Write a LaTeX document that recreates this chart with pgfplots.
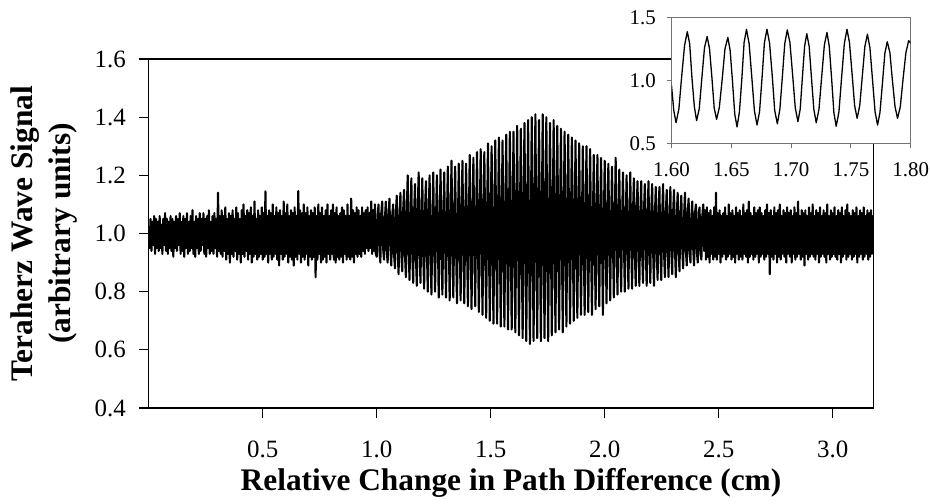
\documentclass[border=0pt]{standalone}
\usepackage{fontspec}
\setmainfont{Liberation Serif}
\usepackage{pgfplots}
\pgfplotsset{compat=1.18}

\begin{document}
\begin{tikzpicture}
\path[use as bounding box] (0bp,0bp) rectangle (930bp,504bp);
% full scan
\begin{axis}[
  at={(148.7bp,96bp)}, anchor=south west,
  scale only axis, width=724.6bp, height=349bp,
  xmin=0, xmax=3.178, ymin=0.4, ymax=1.6,
  xtick={0.5,1.0,1.5,2.0,2.5,3.0},
  ytick={0.4,0.6,0.8,1.0,1.2,1.4,1.6},
  xtick pos=bottom, ytick pos=left,
  tick align=outside, major tick length=10bp,
  axis line style={line width=1.3bp},
  tick style={black, line width=1.3bp},
  scaled ticks=false,
  /pgf/number format/fixed, /pgf/number format/fixed zerofill,
  /pgf/number format/precision=1, /pgf/number format/assume math mode=true,
  tick label style={font=\fontsize{25}{30}\selectfont},
  xticklabel style={anchor=base, inner sep=0pt, yshift=-39.7bp},
  yticklabel style={anchor=east, inner sep=0pt, xshift=-12.7bp},
  xlabel={Relative Change in Path Difference (cm)},
  ylabel={Teraherz Wave Signal\\(arbitrary units)},
  xlabel style={font=\fontsize{31.5}{37.5}\selectfont\bfseries, at={(axis description cs:0.5,-0.235)}, anchor=base, inner sep=0pt},
  ylabel style={font=\fontsize{31.5}{37.5}\selectfont\bfseries, align=center, at={(axis description cs:-0.1445,0.5)}, anchor=center},
]
\addplot[black, line width=2.1bp, line join=round, no markers] coordinates {
(0.000,1.00)(0.004,0.95)(0.008,1.05)(0.012,0.94)(0.016,1.04)(0.020,0.96)(0.024,1.06)(0.028,0.93)(0.032,1.05)(0.036,0.95)
(0.040,1.04)(0.044,0.94)(0.048,1.06)(0.052,0.95)(0.056,1.03)(0.060,0.93)(0.064,1.05)(0.068,0.96)(0.072,1.07)(0.076,0.94)
(0.080,1.05)(0.084,0.93)(0.088,1.04)(0.092,0.95)(0.096,1.06)(0.100,0.94)(0.104,1.05)(0.108,0.92)(0.112,1.04)(0.116,0.95)
(0.120,1.06)(0.124,0.94)(0.128,1.05)(0.132,0.96)(0.136,1.07)(0.140,0.93)(0.144,1.04)(0.148,0.94)(0.152,1.06)(0.156,0.92)
(0.160,1.05)(0.164,0.95)(0.168,1.07)(0.172,0.93)(0.176,1.04)(0.180,0.94)(0.184,1.06)(0.188,0.95)(0.192,1.08)(0.196,0.93)
(0.200,1.04)(0.204,0.92)(0.208,1.06)(0.212,0.95)(0.216,1.05)(0.220,0.93)(0.224,1.07)(0.228,0.94)(0.232,1.05)(0.236,0.96)
(0.240,1.07)(0.244,0.93)(0.248,1.05)(0.252,0.92)(0.256,1.06)(0.260,0.95)(0.264,1.08)(0.268,0.93)(0.272,1.04)(0.276,0.94)
(0.280,1.06)(0.284,0.93)(0.288,1.07)(0.292,0.95)(0.296,1.05)(0.300,0.92)(0.304,1.14)(0.308,0.94)(0.312,1.06)(0.316,0.93)
(0.320,1.08)(0.324,0.92)(0.328,1.06)(0.332,0.94)(0.336,1.09)(0.340,0.91)(0.344,1.05)(0.348,0.93)(0.352,1.07)(0.356,0.90)
(0.360,1.06)(0.364,0.93)(0.368,1.08)(0.372,0.92)(0.376,1.05)(0.380,0.94)(0.384,1.09)(0.388,0.91)(0.392,1.07)(0.396,0.93)
(0.400,1.05)(0.404,0.90)(0.408,1.08)(0.412,0.93)(0.416,1.10)(0.420,0.92)(0.424,1.06)(0.428,0.94)(0.432,1.08)(0.436,0.91)
(0.440,1.07)(0.444,0.93)(0.448,1.09)(0.452,0.90)(0.456,1.06)(0.460,0.92)(0.464,1.11)(0.468,0.93)(0.472,1.05)(0.476,0.91)
(0.480,1.08)(0.484,0.92)(0.488,1.06)(0.492,0.93)(0.496,1.09)(0.500,0.91)(0.504,1.07)(0.508,0.92)(0.512,1.145)(0.516,0.93)
(0.520,1.06)(0.524,0.90)(0.528,1.08)(0.532,0.93)(0.536,1.07)(0.540,0.91)(0.544,1.10)(0.548,0.92)(0.552,1.06)(0.556,0.93)
(0.560,1.09)(0.564,0.91)(0.568,1.07)(0.572,0.89)(0.576,1.08)(0.580,0.93)(0.584,1.06)(0.588,0.91)(0.592,1.11)(0.596,0.92)
(0.600,1.07)(0.604,0.93)(0.608,1.10)(0.612,0.90)(0.616,1.06)(0.620,0.92)(0.624,1.08)(0.628,0.91)(0.632,1.07)(0.636,0.89)
(0.640,1.09)(0.644,0.92)(0.648,1.06)(0.652,0.91)(0.656,1.146)(0.660,0.93)(0.664,1.08)(0.668,0.90)(0.672,1.07)(0.676,0.92)
(0.680,1.10)(0.684,0.91)(0.688,1.07)(0.692,0.93)(0.696,1.09)(0.700,0.89)(0.704,1.06)(0.708,0.92)(0.712,1.08)(0.716,0.91)
(0.720,1.07)(0.724,0.92)(0.728,1.09)(0.732,0.85)(0.736,1.06)(0.740,0.91)(0.744,1.10)(0.748,0.93)(0.752,1.07)(0.756,0.90)
(0.760,1.09)(0.764,0.91)(0.768,1.06)(0.772,0.92)(0.776,1.08)(0.780,0.90)(0.784,1.10)(0.788,0.93)(0.792,1.06)(0.796,0.91)
(0.800,1.08)(0.804,0.93)(0.808,1.10)(0.812,0.91)(0.816,1.07)(0.820,0.90)(0.824,1.09)(0.828,0.92)(0.832,1.06)(0.836,0.91)
(0.840,1.07)(0.844,0.92)(0.848,1.09)(0.852,0.90)(0.856,1.08)(0.860,0.93)(0.864,1.06)(0.868,0.91)(0.872,1.10)(0.876,0.92)
(0.880,1.06)(0.884,0.91)(0.888,1.12)(0.892,0.92)(0.896,1.08)(0.900,0.90)(0.904,1.07)(0.908,0.93)(0.912,1.09)(0.916,0.92)
(0.920,1.08)(0.924,0.93)(0.928,1.06)(0.932,0.92)(0.936,1.09)(0.940,0.94)(0.944,1.07)(0.948,0.93)(0.952,1.08)(0.956,0.95)
(0.960,1.09)(0.964,0.94)(0.968,1.07)(0.972,0.95)(0.976,1.11)(0.980,0.93)(0.984,1.08)(0.988,0.94)(0.992,1.10)(0.996,0.93)
(1.000,0.92)(1.004,1.06)(1.008,1.10)(1.012,0.94)(1.016,0.90)(1.020,1.07)(1.024,1.11)(1.028,0.95)(1.032,0.91)(1.036,1.05)
(1.040,1.11)(1.044,0.94)(1.048,0.90)(1.052,1.07)(1.056,1.12)(1.060,0.95)(1.064,0.89)(1.068,1.06)(1.072,1.10)(1.076,0.93)
(1.080,0.88)(1.084,1.07)(1.088,1.13)(1.092,0.94)(1.096,0.86)(1.100,1.06)(1.104,1.14)(1.108,0.93)(1.112,0.87)(1.116,1.08)
(1.120,1.15)(1.124,0.93)(1.128,0.85)(1.132,1.08)(1.136,1.20)(1.140,0.94)(1.144,0.84)(1.148,1.06)(1.152,1.19)(1.156,0.93)
(1.160,0.83)(1.164,1.07)(1.168,1.17)(1.172,0.92)(1.176,0.82)(1.180,1.08)(1.184,1.21)(1.188,0.94)(1.192,0.83)(1.196,1.06)
(1.200,1.19)(1.204,0.93)(1.208,0.81)(1.212,1.08)(1.216,1.18)(1.220,0.95)(1.224,0.80)(1.228,1.07)(1.232,1.20)(1.236,0.94)
(1.240,0.79)(1.244,1.02)(1.248,1.21)(1.252,0.97)(1.256,0.80)(1.260,1.04)(1.264,1.20)(1.268,0.99)(1.272,0.78)(1.276,1.03)
(1.280,1.22)(1.284,0.98)(1.288,0.79)(1.292,1.03)(1.296,1.21)(1.300,0.97)(1.304,0.78)(1.308,1.05)(1.312,1.23)(1.316,0.99)
(1.320,0.77)(1.324,1.03)(1.328,1.25)(1.332,0.98)(1.336,0.78)(1.340,1.04)(1.344,1.23)(1.348,0.97)(1.352,0.76)(1.356,1.02)
(1.360,1.24)(1.364,0.99)(1.368,0.77)(1.372,1.04)(1.376,1.25)(1.380,0.97)(1.384,0.76)(1.388,1.03)(1.392,1.24)(1.396,0.98)
(1.400,0.75)(1.404,1.04)(1.408,1.27)(1.412,0.98)(1.416,0.74)(1.420,1.03)(1.424,1.26)(1.428,0.99)(1.432,0.75)(1.436,1.05)
(1.440,1.28)(1.444,0.97)(1.448,0.73)(1.452,1.04)(1.456,1.29)(1.460,0.99)(1.464,0.72)(1.468,1.03)(1.472,1.28)(1.476,0.98)
(1.480,0.71)(1.484,1.04)(1.488,1.31)(1.492,0.98)(1.496,0.70)(1.500,1.05)(1.504,1.30)(1.508,0.97)(1.512,0.69)(1.516,1.03)
(1.520,1.32)(1.524,0.99)(1.528,0.69)(1.532,1.04)(1.536,1.33)(1.540,0.98)(1.544,0.68)(1.548,1.05)(1.552,1.32)(1.556,0.97)
(1.560,0.68)(1.564,1.03)(1.568,1.34)(1.572,0.99)(1.576,0.67)(1.580,1.04)(1.584,1.35)(1.588,0.98)(1.592,0.67)(1.596,1.05)
(1.600,1.35)(1.604,0.98)(1.608,0.66)(1.612,1.04)(1.616,1.37)(1.620,0.99)(1.624,0.65)(1.628,1.03)(1.632,1.36)(1.636,0.98)
(1.640,0.64)(1.644,1.05)(1.648,1.38)(1.652,0.99)(1.656,0.63)(1.660,1.04)(1.664,1.39)(1.668,0.97)(1.672,0.62)(1.676,1.03)
(1.680,1.40)(1.684,0.98)(1.688,0.63)(1.692,1.05)(1.696,1.41)(1.700,0.99)(1.704,0.64)(1.708,1.04)(1.712,1.39)(1.716,0.98)
(1.720,0.63)(1.724,1.04)(1.728,1.41)(1.732,0.99)(1.736,0.64)(1.740,1.05)(1.744,1.40)(1.748,0.98)(1.752,0.63)(1.756,1.03)
(1.760,1.38)(1.764,0.99)(1.768,0.65)(1.772,1.04)(1.776,1.39)(1.780,0.98)(1.784,0.66)(1.788,1.05)(1.792,1.37)(1.796,0.99)
(1.800,0.67)(1.804,1.04)(1.808,1.36)(1.812,0.98)(1.816,0.66)(1.820,1.03)(1.824,1.35)(1.828,0.99)(1.832,0.68)(1.836,1.05)
(1.840,1.34)(1.844,0.98)(1.848,0.69)(1.852,1.04)(1.856,1.33)(1.860,0.99)(1.864,0.70)(1.868,1.03)(1.872,1.32)(1.876,0.98)
(1.880,0.71)(1.884,1.04)(1.888,1.31)(1.892,0.99)(1.896,0.72)(1.900,1.03)(1.904,1.30)(1.908,0.98)(1.912,0.72)(1.916,1.04)
(1.920,1.30)(1.924,0.99)(1.928,0.73)(1.932,1.04)(1.936,1.29)(1.940,0.98)(1.944,0.72)(1.948,1.03)(1.952,1.27)(1.956,0.99)
(1.960,0.74)(1.964,1.03)(1.968,1.27)(1.972,0.98)(1.976,0.75)(1.980,1.04)(1.984,1.26)(1.988,0.99)(1.992,0.72)(1.996,1.03)
(2.000,1.25)(2.004,0.98)(2.008,0.76)(2.012,1.04)(2.016,1.24)(2.020,0.99)(2.024,0.77)(2.028,1.03)(2.032,1.23)(2.036,0.98)
(2.040,0.78)(2.044,1.03)(2.048,1.26)(2.052,0.99)(2.056,0.79)(2.060,1.04)(2.064,1.22)(2.068,0.98)(2.072,0.80)(2.076,1.03)
(2.080,1.21)(2.084,0.99)(2.088,0.80)(2.092,1.03)(2.096,1.20)(2.100,0.98)(2.104,0.81)(2.108,1.04)(2.112,1.21)(2.116,0.99)
(2.120,0.81)(2.124,1.07)(2.128,1.19)(2.132,0.94)(2.136,0.82)(2.140,1.08)(2.144,1.18)(2.148,0.95)(2.152,0.82)(2.156,1.06)
(2.160,1.18)(2.164,0.94)(2.168,0.83)(2.172,1.07)(2.176,1.17)(2.180,0.95)(2.184,0.82)(2.188,1.06)(2.192,1.18)(2.196,0.94)
(2.200,0.83)(2.204,1.07)(2.208,1.17)(2.212,0.95)(2.216,0.82)(2.220,1.06)(2.224,1.16)(2.228,0.94)(2.232,0.84)(2.236,1.07)
(2.240,1.16)(2.244,0.95)(2.248,0.84)(2.252,1.06)(2.256,1.17)(2.260,0.94)(2.264,0.85)(2.268,1.07)(2.272,1.15)(2.276,0.95)
(2.280,0.85)(2.284,1.06)(2.288,1.16)(2.292,0.94)(2.296,0.86)(2.300,1.07)(2.304,1.15)(2.308,0.95)(2.312,0.85)(2.316,1.06)
(2.320,1.14)(2.324,0.94)(2.328,0.87)(2.332,1.07)(2.336,1.13)(2.340,0.95)(2.344,0.88)(2.348,1.06)(2.352,1.14)(2.356,0.94)
(2.360,0.89)(2.364,1.07)(2.368,1.12)(2.372,0.94)(2.376,0.90)(2.380,1.06)(2.384,1.11)(2.388,0.95)(2.392,0.89)(2.396,1.07)
(2.400,1.10)(2.404,0.94)(2.408,0.90)(2.412,1.07)(2.416,1.09)(2.420,0.93)(2.424,0.91)(2.428,1.06)(2.432,1.10)(2.436,0.94)
(2.440,1.08)(2.444,0.91)(2.448,1.09)(2.452,0.92)(2.456,1.07)(2.460,0.90)(2.464,1.08)(2.468,0.93)(2.472,1.06)(2.476,0.91)
(2.480,1.09)(2.484,0.92)(2.488,1.14)(2.492,0.91)(2.496,1.07)(2.500,0.93)(2.504,1.08)(2.508,0.90)(2.512,1.06)(2.516,0.92)
(2.520,1.07)(2.524,0.93)(2.528,1.09)(2.532,0.91)(2.536,1.06)(2.540,0.92)(2.544,1.10)(2.548,0.93)(2.552,1.07)(2.556,0.91)
(2.560,1.08)(2.564,0.92)(2.568,1.06)(2.572,0.90)(2.576,1.09)(2.580,0.93)(2.584,1.07)(2.588,0.91)(2.592,1.08)(2.596,0.92)
(2.600,1.06)(2.604,0.91)(2.608,1.10)(2.612,0.93)(2.616,1.07)(2.620,0.92)(2.624,1.08)(2.628,0.90)(2.632,1.11)(2.636,0.92)
(2.640,1.07)(2.644,0.93)(2.648,1.06)(2.652,0.91)(2.656,1.09)(2.660,0.92)(2.664,1.07)(2.668,0.93)(2.672,1.08)(2.676,0.90)
(2.680,1.09)(2.684,0.92)(2.688,1.07)(2.692,0.93)(2.696,1.06)(2.700,0.91)(2.704,1.08)(2.708,0.92)(2.712,1.10)(2.716,0.93)
(2.720,1.07)(2.724,0.86)(2.728,1.08)(2.732,0.92)(2.736,1.06)(2.740,0.91)(2.744,1.09)(2.748,0.93)(2.752,1.07)(2.756,0.90)
(2.760,1.08)(2.764,0.92)(2.768,1.10)(2.772,0.91)(2.776,1.06)(2.780,0.93)(2.784,1.08)(2.788,0.92)(2.792,1.07)(2.796,0.90)
(2.800,1.09)(2.804,0.93)(2.808,1.07)(2.812,0.92)(2.816,1.08)(2.820,0.90)(2.824,1.06)(2.828,0.93)(2.832,1.09)(2.836,0.91)
(2.840,1.07)(2.844,0.92)(2.848,1.11)(2.852,0.93)(2.856,1.06)(2.860,0.91)(2.864,1.08)(2.868,0.92)(2.872,1.07)(2.876,0.89)
(2.880,1.08)(2.884,0.93)(2.888,1.06)(2.892,0.91)(2.896,1.09)(2.900,0.92)(2.904,1.07)(2.908,0.93)(2.912,1.10)(2.916,0.92)
(2.920,1.06)(2.924,0.91)(2.928,1.08)(2.932,0.93)(2.936,1.07)(2.940,0.90)(2.944,1.09)(2.948,0.92)(2.952,1.06)(2.956,0.93)
(2.960,1.08)(2.964,0.92)(2.968,1.07)(2.972,0.90)(2.976,1.10)(2.980,0.93)(2.984,1.06)(2.988,0.91)(2.992,1.08)(2.996,0.92)
(3.000,1.07)(3.004,0.93)(3.008,1.09)(3.012,0.92)(3.016,1.06)(3.020,0.91)(3.024,1.08)(3.028,0.93)(3.032,1.07)(3.036,0.90)
(3.040,1.09)(3.044,0.92)(3.048,1.06)(3.052,0.93)(3.056,1.08)(3.060,0.91)(3.064,1.10)(3.068,0.92)(3.072,1.07)(3.076,0.93)
(3.080,1.06)(3.084,0.91)(3.088,1.08)(3.092,0.92)(3.096,1.07)(3.100,0.93)(3.104,1.09)(3.108,0.90)(3.112,1.06)(3.116,0.92)
(3.120,1.08)(3.124,0.93)(3.128,1.07)(3.132,0.91)(3.136,1.09)(3.140,0.92)(3.144,1.06)(3.148,0.93)(3.152,1.08)(3.156,0.91)
(3.160,1.07)(3.164,0.92)(3.168,1.08)(3.172,0.93)(3.176,1.06)(3.180,0.95)
};
\end{axis}
% close-up of the fringes near the centre burst
\begin{axis}[
  at={(671.5bp,360.7bp)}, anchor=south west,
  scale only axis, width=239.2bp, height=126bp,
  xmin=1.6, xmax=1.8, ymin=0.5, ymax=1.5,
  xtick={1.60,1.65,1.70,1.75,1.80}, ytick={0.5,1.0,1.5},
  xtick pos=bottom, ytick pos=left,
  tick align=outside, major tick length=5bp,
  axis background/.style={fill=white},
  axis line style={line width=1bp, black!55},
  tick style={black!55, line width=1bp},
  scaled ticks=false,
  /pgf/number format/fixed, /pgf/number format/fixed zerofill,
  /pgf/number format/assume math mode=true,
  tick label style={font=\fontsize{21}{25}\selectfont},
  xticklabel style={/pgf/number format/precision=2, anchor=base, inner sep=0pt, yshift=-28.7bp},
  yticklabel style={/pgf/number format/precision=1, anchor=east, inner sep=0pt, xshift=-10.5bp},
]
\addplot[black, line width=1.3bp, line join=round, no markers] coordinates {
(1.6000,0.960)(1.6019,0.760)(1.6038,0.663)(1.6062,0.775)(1.6085,1.030)(1.6109,1.275)
(1.6132,1.386)(1.6152,1.290)(1.6171,1.020)(1.6191,0.790)(1.6210,0.680)(1.6232,0.775)
(1.6254,1.020)(1.6276,1.260)(1.6298,1.347)(1.6318,1.250)(1.6338,1.020)(1.6357,0.780)
(1.6377,0.690)(1.6400,0.785)(1.6424,1.010)(1.6447,1.250)(1.6471,1.340)(1.6490,1.240)
(1.6510,0.990)(1.6529,0.730)(1.6548,0.630)(1.6568,0.750)(1.6588,1.010)(1.6607,1.300)
(1.6627,1.405)(1.6649,1.290)(1.6671,1.030)(1.6693,0.760)(1.6715,0.645)(1.6736,0.750)
(1.6757,1.020)(1.6777,1.300)(1.6798,1.405)(1.6820,1.295)(1.6842,1.040)(1.6863,0.760)
(1.6885,0.655)(1.6906,0.770)(1.6927,1.030)(1.6947,1.290)(1.6968,1.400)(1.6990,1.300)
(1.7013,1.040)(1.7035,0.780)(1.7057,0.672)(1.7076,0.770)(1.7094,1.020)(1.7113,1.270)
(1.7131,1.370)(1.7151,1.270)(1.7171,1.010)(1.7190,0.770)(1.7210,0.663)(1.7233,0.770)
(1.7255,1.020)(1.7278,1.280)(1.7300,1.380)(1.7319,1.270)(1.7339,1.010)(1.7358,0.740)
(1.7377,0.635)(1.7400,0.750)(1.7422,1.020)(1.7445,1.290)(1.7467,1.405)(1.7488,1.300)
(1.7510,1.050)(1.7531,0.800)(1.7552,0.698)(1.7574,0.800)(1.7595,1.030)(1.7617,1.270)
(1.7638,1.365)(1.7659,1.260)(1.7681,1.000)(1.7702,0.750)(1.7723,0.645)(1.7743,0.745)
(1.7764,0.980)(1.7784,1.215)(1.7804,1.306)(1.7826,1.220)(1.7847,1.000)(1.7869,0.790)
(1.7890,0.698)(1.7913,0.790)(1.7936,1.010)(1.7960,1.220)(1.7983,1.315)(1.8000,1.295)
};
\end{axis}
\end{tikzpicture}
\end{document}
